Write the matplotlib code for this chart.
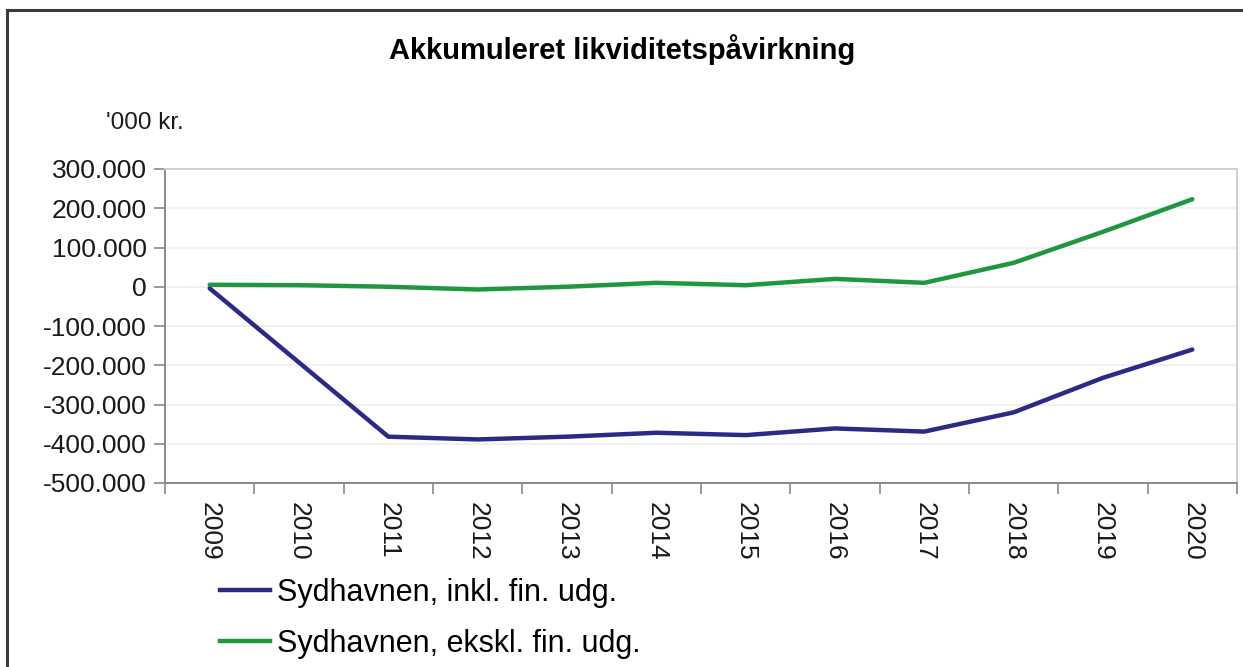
import matplotlib
matplotlib.use("Agg")
import matplotlib.pyplot as plt
from matplotlib.lines import Line2D
from matplotlib.ticker import FixedLocator, FuncFormatter

plt.rcParams['font.family'] = ['Liberation Sans', 'DejaVu Sans']

# data ('000 kr.)
years = ['2009', '2010', '2011', '2012', '2013', '2014',
         '2015', '2016', '2017', '2018', '2019', '2020']
inkl = [-4000, -193000, -382000, -389000, -382000, -372000,
        -378000, -361000, -369000, -320000, -232000, -160000]
ekskl = [5000, 4000, 0, -7000, 0, 10000,
         4000, 20000, 10000, 61000, 140000, 223000]
labels = ['Sydhavnen, inkl. fin. udg.', 'Sydhavnen, ekskl. fin. udg.']
colors = ['#2b2a86', '#1f973e']

W, H = 1243, 667
fig = plt.figure(figsize=(W / 100, H / 100), dpi=100)

# outer frame (top and left edges visible)
fig.add_artist(Line2D([6.5 / W, 1.0], [1 - 10 / H, 1 - 10 / H],
                      transform=fig.transFigure, color='#3a3a3a', lw=2.2))
fig.add_artist(Line2D([6.5 / W, 6.5 / W], [0, 1 - 10 / H],
                      transform=fig.transFigure, color='#3a3a3a', lw=2.2))

ax = fig.add_axes([165 / W, 1 - 483 / H, (1237 - 165) / W, (483 - 169) / H])

x = list(range(len(years)))
ax.plot(x, inkl, color=colors[0], lw=3.2, solid_capstyle='round', zorder=3)
ax.plot(x, ekskl, color=colors[1], lw=3.2, solid_capstyle='round', zorder=3)

ax.set_xlim(-0.5, len(years) - 0.5)
ax.set_ylim(-500000, 300000)
ax.set_yticks(range(-500000, 300001, 100000))
ax.yaxis.set_major_formatter(
    FuncFormatter(lambda v, p: f"{int(v):,}".replace(",", ".")))
ax.grid(axis='y', color='#eeeeee', lw=1.2, zorder=0)

# category axis: tick marks between categories, labels at centres
ax.xaxis.set_major_locator(FixedLocator([i - 0.5 for i in range(len(years) + 1)]))
ax.xaxis.set_minor_locator(FixedLocator(x))
ax.set_xticklabels([])
ax.set_xticklabels(years, minor=True, rotation=-90, fontsize=19,
                   color='#1a1a1a')
ax.tick_params(axis='x', which='minor', length=0, pad=14)
ax.tick_params(axis='x', which='major', length=8, width=1.2, color='#8a8a8a')
ax.tick_params(axis='y', length=8, width=1.2, color='#8a8a8a', pad=5,
               labelsize=19, labelcolor='#1a1a1a')

for s in ['left', 'bottom']:
    ax.spines[s].set_color('#8a8a8a')
    ax.spines[s].set_linewidth(1.4)
for s in ['top', 'right']:
    ax.spines[s].set_color('#cfcfcf')
    ax.spines[s].set_linewidth(1.4)

fig.text(622 / W, 1 - 50 / H, 'Akkumuleret likviditetspåvirkning',
         ha='center', va='center', fontsize=21, fontweight='bold')
fig.text(106 / W, 1 - 123 / H, "'000 kr.", ha='left', va='center',
         fontsize=17.5, color='#1a1a1a')

handles = [Line2D([], [], color=c, lw=3.2) for c in colors]
fig.legend(handles, labels, loc='upper left',
           bbox_to_anchor=(220 / W, 1 - 578 / H), frameon=False,
           fontsize=22, handlelength=1.65, handletextpad=0.2,
           labelspacing=0.68, borderaxespad=0, borderpad=0)

fig.savefig('out.png', dpi=100)
